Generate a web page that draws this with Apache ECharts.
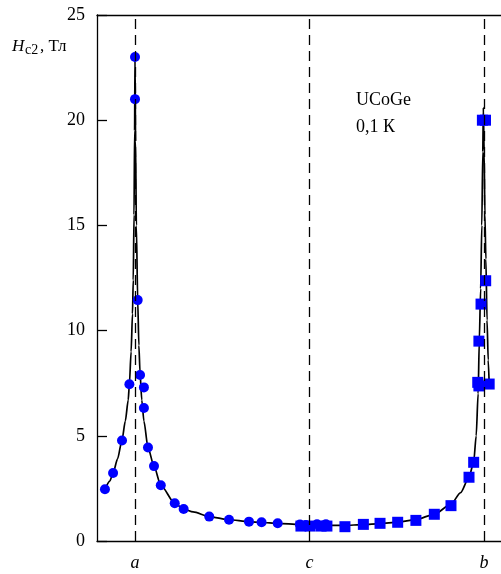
<!DOCTYPE html>
<html>
<head>
<meta charset="utf-8">
<script src="https://cdn.jsdelivr.net/npm/echarts@6/dist/echarts.min.js"></script>
<style>html,body{margin:0;padding:0;background:#fff}#c{width:501px;height:574px}</style>
</head>
<body>
<div id="c"></div>
<script>
// Axis ticks / labels
const xTickValues = [0, 90, 180];
const xTickLabels = ['a', 'c', 'b'];
const yTickValues = [0, 5, 10, 15, 20, 25];

// Circles: rotation a -> c (angle in degrees from a, Hc2 in T)
const circleAngle = [-15.5, -11.3, -6.7, -2.9, 0, 0, 1.4, 2.6, 4.6, 4.6, 6.7, 9.8, 13.3, 20.5, 25.1, 38.3, 48.5, 58.8, 65.3, 73.6, 85.1, 88.2, 93.9, 98.5];
const circleHc2   = [2.46, 3.23, 4.78, 7.45, 23.0, 21.0, 11.45, 7.89, 7.30, 6.32, 4.44, 3.56, 2.65, 1.79, 1.52, 1.16, 1.01, 0.92, 0.89, 0.84, 0.78, 0.76, 0.8, 0.8];

// Squares: rotation c -> b
const squareAngle = [85.6, 90.3, 96.0, 99.0, 108.3, 117.8, 126.4, 135.5, 144.9, 154.4, 163.0, 172.3, 174.7, 176.8, 177.4, 177.4, 178.5, 179.2, 180.8, 180.9, 182.7];
const squareHc2   = [0.71, 0.71, 0.71, 0.71, 0.68, 0.79, 0.84, 0.89, 0.98, 1.27, 1.68, 3.03, 3.74, 7.54, 7.37, 9.5, 11.26, 20.0, 20.0, 12.37, 7.46];

// Fitted curve
const curveAngle = [-15.5, -13, -11.3, -9, -6.7, -5, -3.5, -2.9, -2, -1.3, -0.9, -0.5, -0.2, 0, 0.3, 0.7, 1.4, 2.0, 2.6, 3.5, 4.6, 6.7, 9.8, 13.3, 20.5, 25.1, 30, 38.3, 48.5, 58.8, 65.3, 73.6, 85, 90, 100, 108, 117.8, 126.4, 135.5, 144.9, 154.4, 163, 168, 172.3, 174.7, 176.0, 177.0, 177.6, 178.3, 178.9, 179.4, 179.7, 180.1, 180.5, 181.0, 181.6, 182.2, 182.7];
const curveHc2   = [2.46, 2.85, 3.23, 3.9, 4.8, 5.7, 6.7, 7.45, 9.0, 10.8, 12.4, 15.5, 19.5, 23.0, 19.0, 15.0, 11.45, 9.3, 8.0, 6.7, 5.7, 4.44, 3.56, 2.65, 1.79, 1.52, 1.38, 1.16, 1.01, 0.92, 0.88, 0.84, 0.78, 0.76, 0.74, 0.74, 0.78, 0.83, 0.9, 1.02, 1.27, 1.75, 2.3, 3.03, 3.74, 5.0, 7.0, 9.5, 12.0, 15.0, 18.5, 20.6, 18.5, 15.5, 13.4, 10.5, 8.6, 7.46];

const FONT = '"Liberation Serif", "Times New Roman", serif';
const zip = (a, b) => a.map((v, i) => [v, b[i]]);

const chart = echarts.init(document.getElementById('c'), null, {renderer: 'canvas'});
chart.setOption({
  animation: false,
  backgroundColor: '#fff',
  grid: {left: 97, top: 15, bottom: 33, right: 0, containLabel: false},
  xAxis: [{
    type: 'value', min: -19.6, max: 188.8, position: 'bottom',
    axisLine: {show: true, onZero: false, lineStyle: {color: '#000', width: 1.3}},
    axisTick: {show: false},
    splitLine: {show: false},
    axisLabel: {
      customValues: xTickValues, margin: 13,
      fontFamily: FONT, fontSize: 18, fontStyle: 'italic', color: '#000',
      formatter: v => xTickLabels[xTickValues.indexOf(v)] || ''
    }
  }, {
    type: 'value', min: -19.6, max: 188.8, position: 'top',
    axisLine: {show: true, onZero: false, lineStyle: {color: '#000', width: 1.3}},
    axisTick: {show: false}, axisLabel: {show: false}, splitLine: {show: false}
  }],
  yAxis: {
    type: 'value', min: 0, max: 25, interval: 5, position: 'left',
    axisLine: {show: true, onZero: false, lineStyle: {color: '#000', width: 1.3}},
    axisTick: {show: true, inside: true, length: 10, lineStyle: {color: '#000', width: 1.3}},
    splitLine: {show: false},
    axisLabel: {
      margin: 12, fontFamily: FONT, fontSize: 18, color: '#000',
      formatter: v => yTickValues.indexOf(v) >= 0 ? String(v) : ''
    }
  },
  graphic: [
    {type: 'text', left: 12, top: 38, style: {text: 'H', font: 'italic 17px ' + FONT, fill: '#000'}},
    {type: 'text', left: 25, top: 43, style: {text: 'c2', font: '14px ' + FONT, fill: '#000'}},
    {type: 'text', left: 40, top: 38, style: {text: ', Тл', font: '17px ' + FONT, fill: '#000'}},
    {type: 'text', left: 356, top: 91, style: {text: 'UCoGe', font: '18px ' + FONT, fill: '#000'}},
    {type: 'text', left: 356, top: 118, style: {text: '0,1 К', font: '18px ' + FONT, fill: '#000'}}
  ],
  series: [
    {
      type: 'line', data: zip(curveAngle, curveHc2), showSymbol: false,
      smooth: 0.25, smoothMonotone: 'x',
      lineStyle: {color: '#000', width: 1.7}, z: 2,
      markLine: {
        silent: true, symbol: 'none', label: {show: false},
        lineStyle: {color: '#000', width: 1.3, type: [10, 6]},
        data: xTickValues.map(v => ({xAxis: v}))
      }
    },
    {
      type: 'scatter', data: zip(circleAngle, circleHc2), symbol: 'circle', symbolSize: 10,
      itemStyle: {color: '#0000ff', opacity: 1}, z: 3
    },
    {
      type: 'scatter', data: zip(squareAngle, squareHc2), symbol: 'rect', symbolSize: 11,
      itemStyle: {color: '#0000ff', opacity: 1}, z: 3
    }
  ]
});
</script>
</body>
</html>
